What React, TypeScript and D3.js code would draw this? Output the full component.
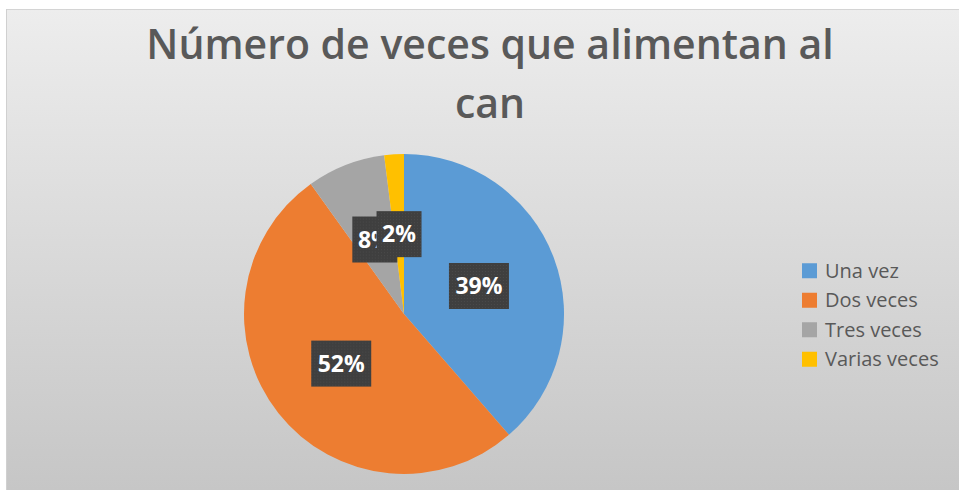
import React from "react";
import * as d3 from "d3";

const categories = ["Una vez", "Dos veces", "Tres veces", "Varias veces"];
const percentages = [39, 52, 8, 2];
const colors = ["#5B9BD5", "#ED7D31", "#A5A5A5", "#FFC000"];
const titleLines = ["Número de veces que alimentan al", "can"];

const W = 959;
const H = 490;

export default function App() {
  const cx = 404;
  const cy = 314;
  const R = 160;

  const pie = d3
    .pie<number>()
    .sort(null)
    .value((d) => d)
    .startAngle(0)
    .endAngle(2 * Math.PI);
  const arcs = pie(percentages);
  const arc = d3.arc<d3.PieArcDatum<number>>().innerRadius(0).outerRadius(R);
  const labelArc = d3
    .arc<d3.PieArcDatum<number>>()
    .innerRadius(R * 0.5)
    .outerRadius(R * 0.5);

  const legendY = d3
    .scaleBand<string>()
    .domain(categories)
    .range([256, 374])
    .paddingInner(0);

  const fontStack = "'Open Sans', 'Noto Sans', sans-serif";

  return (
    <svg
      width={W}
      height={H}
      style={{ position: "absolute", left: 0, top: 0, display: "block" }}
    >
      <defs>
        <linearGradient id="bg" x1="0" y1="0" x2="0" y2="1">
          <stop offset="0%" stopColor="#ededed" />
          <stop offset="100%" stopColor="#c6c6c6" />
        </linearGradient>
        <pattern id="dots" width="3" height="3" patternUnits="userSpaceOnUse">
          <rect width="3" height="3" fill="#3f3f3f" />
          <rect width="1" height="1" fill="#4a4a4a" />
        </pattern>
      </defs>
      <rect x={0} y={0} width={W} height={H} fill="#ffffff" />
      <rect x={6} y={9} width={W - 6} height={H - 9} fill="url(#bg)" />
      <line x1={6} x2={W} y1={9.5} y2={9.5} stroke="#d4d4d4" strokeWidth={1} />
      <line x1={6.5} x2={6.5} y1={9} y2={H} stroke="#d0d0d0" strokeWidth={1} />

      {titleLines.map((t, i) => (
        <text
          key={t}
          x={490}
          y={59 + i * 59}
          textAnchor="middle"
          fontFamily={fontStack}
          fontWeight={600}
          fontSize={41}
          fill="#595959"
        >
          {t}
        </text>
      ))}

      <g transform={`translate(${cx},${cy})`}>
        {arcs.map((a, i) => (
          <path key={categories[i]} d={arc(a) || ""} fill={colors[i]} />
        ))}
        {arcs.map((a, i) => {
          const [lx, ly] = labelArc.centroid(a);
          const label = `${percentages[i]}%`;
          const bw = label.length === 2 ? 45 : 60;
          const bh = 46;
          return (
            <g key={"l" + i} transform={`translate(${lx},${ly})`}>
              <rect
                x={-bw / 2}
                y={-bh / 2}
                width={bw}
                height={bh}
                fill="url(#dots)"
              />
              <text
                x={0}
                y={0}
                dy="0.35em"
                textAnchor="middle"
                fontFamily={fontStack}
                fontWeight={700}
                fontSize={23}
                fill="#ffffff"
              >
                {label}
              </text>
            </g>
          );
        })}
      </g>

      <g>
        {categories.map((c, i) => {
          const y = (legendY(c) || 0) + legendY.bandwidth() / 2;
          return (
            <g key={c}>
              <rect x={802} y={y - 7.5} width={15} height={15} fill={colors[i]} />
              <text
                x={825}
                y={y}
                dy="0.35em"
                fontFamily={fontStack}
                fontSize={20}
                fill="#595959"
              >
                {c}
              </text>
            </g>
          );
        })}
      </g>
    </svg>
  );
}
